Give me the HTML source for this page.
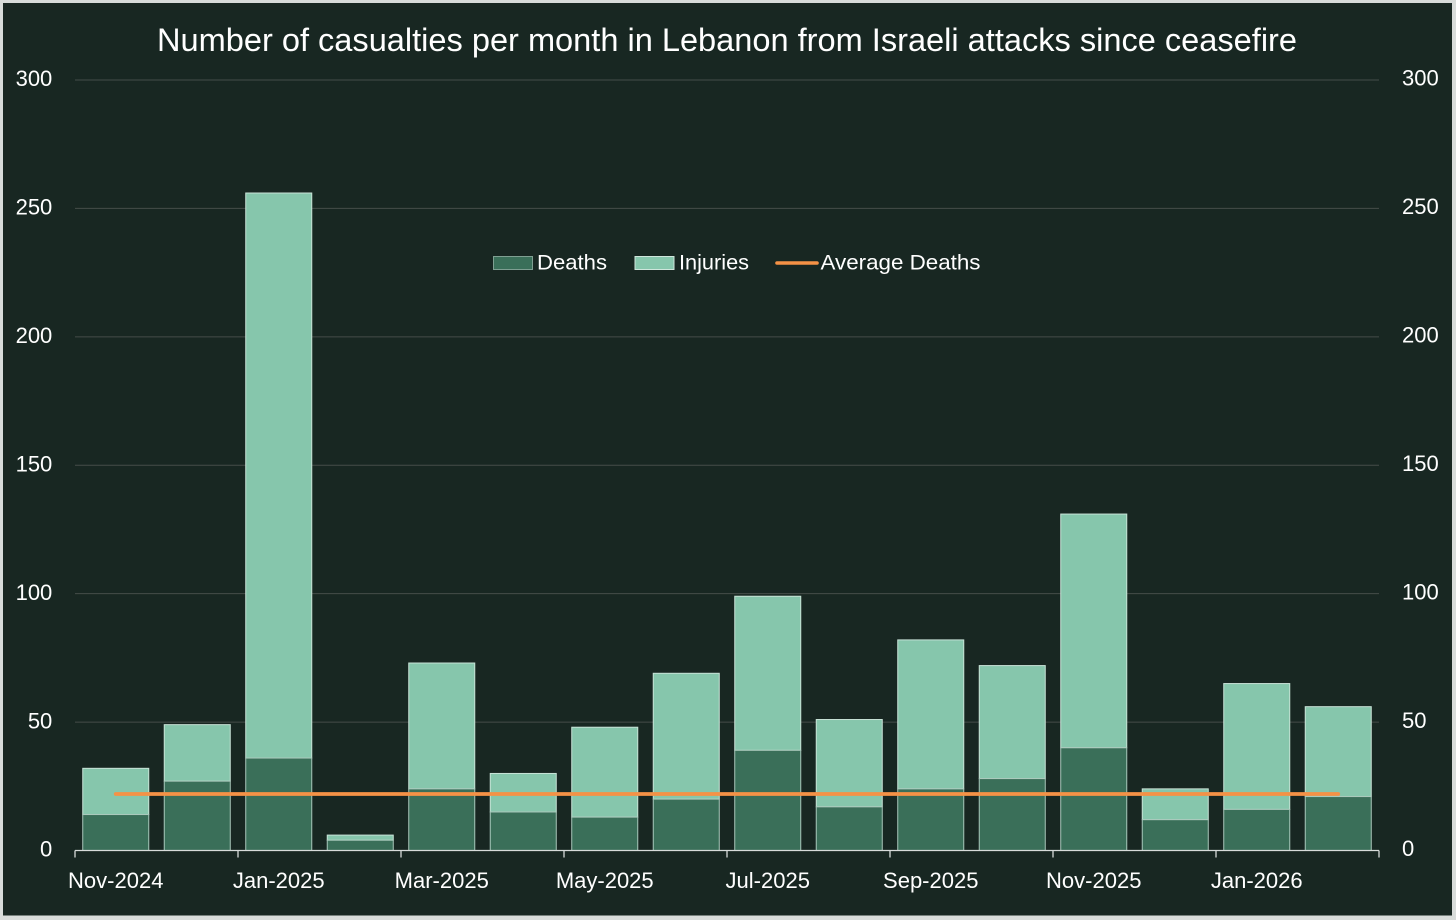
<!DOCTYPE html>
<html>
<head>
<meta charset="utf-8">
<title>Number of casualties per month in Lebanon</title>
<style>
html,body{margin:0;padding:0;background:#fff;}
#frame{position:absolute;left:0;top:0;width:1456px;height:920px;overflow:hidden;background:#d8dcda;}
svg{position:absolute;left:0;top:0;display:block;}
text{font-family:"Liberation Sans",sans-serif;fill:#fff;}
</style>
</head>
<body>
<div id="frame">
<svg id="chart" width="1456" height="920" viewBox="0 0 1456 920" xmlns="http://www.w3.org/2000/svg">
  <rect x="3" y="3" width="1449" height="912.5" fill="#182722"/>
  <text x="727" y="51" font-size="32" text-anchor="middle" textLength="1140" lengthAdjust="spacingAndGlyphs">Number of casualties per month in Lebanon from Israeli attacks since ceasefire</text>
  <g id="grid"></g>
  <g id="bars"></g>
  <g id="axes"></g>
  <g id="avg"></g>
  <g>
    <g>
      <rect x="493.5" y="256.5" width="39" height="13" fill="#3a6f59" stroke="#7f9f92" stroke-width="1"/>
      <text x="537" y="269.3" font-size="21.5" textLength="70" lengthAdjust="spacingAndGlyphs">Deaths</text>
    </g>
    <g>
      <rect x="635" y="256.5" width="39" height="13" fill="#86c6ac" stroke="#cfe6dc" stroke-width="1"/>
      <text x="679" y="269.3" font-size="21.5" textLength="70" lengthAdjust="spacingAndGlyphs">Injuries</text>
    </g>
    <g>
      <line x1="777" y1="263" x2="817" y2="263" stroke="#f59246" stroke-width="3.6" stroke-linecap="round"/>
      <text x="820.5" y="269.3" font-size="21.5" textLength="160" lengthAdjust="spacingAndGlyphs">Average Deaths</text>
    </g>
  </g>
</svg>
</div>
<script>
const categories = ["Nov-2024","Dec-2024","Jan-2025","Feb-2025","Mar-2025","Apr-2025","May-2025","Jun-2025","Jul-2025","Aug-2025","Sep-2025","Oct-2025","Nov-2025","Dec-2025","Jan-2026","Feb-2026"];
const deaths = [14,27,36,4,24,15,13,20,39,17,24,28,40,12,16,21];
const injuries = [18,22,220,2,49,15,35,49,60,34,58,44,91,12,49,35];
const averageDeaths = [22,22,22,22,22,22,22,22,22,22,22,22,22,22,22,22];
const yTicks = [0,50,100,150,200,250,300];

const NS = "http://www.w3.org/2000/svg";
const plot = {left:75, right:1379, top:80, bottom:850.5};
const yMax = 300;
const band = (plot.right - plot.left) / categories.length;
const barW = band * 0.81;
function xCenter(i){ return plot.left + band * (i + 0.5); }
function xEdge(i){ return plot.left + band * i; }
function yPos(v){ return plot.bottom - (v / yMax) * (plot.bottom - plot.top); }
function make(tag, attrs, parent){
  const el = document.createElementNS(NS, tag);
  for (const k in attrs) el.setAttribute(k, attrs[k]);
  parent.appendChild(el);
  return el;
}
const gridG = document.getElementById("grid");
const barsG = document.getElementById("bars");
const axesG = document.getElementById("axes");
const avgG = document.getElementById("avg");

yTicks.forEach(function(t){
  if (t !== 0) {
    const line = make("line", {x1:plot.left, x2:plot.right, y1:yPos(t), y2:yPos(t), stroke:"#454d49", "stroke-width":1}, gridG);
    
    
  }
  const left = make("text", {x:52.3, y:yPos(t) + 6.2, "font-size":22, "text-anchor":"end"}, axesG);
  left.textContent = t;
  
  
  const right = make("text", {x:1402, y:yPos(t) + 5.7, "font-size":22, "text-anchor":"start"}, axesG);
  right.textContent = t;
  
  
});

categories.forEach(function(c, i){
  const x = xCenter(i) - barW / 2;
  const total = deaths[i] + injuries[i];
  const inj = make("rect", {x:x, y:yPos(total), width:barW, height:yPos(deaths[i]) - yPos(total), fill:"#86c6ac", stroke:"#c9e3d8", "stroke-width":1}, barsG);
  
  
  const dea = make("rect", {x:x, y:yPos(deaths[i]), width:barW, height:plot.bottom - yPos(deaths[i]), fill:"#3a6f59", stroke:"#a9c8bb", "stroke-width":1}, barsG);
  
  
  if (i % 2 === 0) {
    const label = make("text", {x:xCenter(i), y:888, "font-size":22, "text-anchor":"middle"}, axesG);
    label.textContent = c;
    
    
    const tick = make("line", {x1:xEdge(i), x2:xEdge(i), y1:plot.bottom, y2:plot.bottom + 7, stroke:"#d8dcda", "stroke-width":1.3}, axesG);
    
    
  }
});
const endTick = make("line", {x1:plot.right, x2:plot.right, y1:plot.bottom, y2:plot.bottom + 7, stroke:"#d8dcda", "stroke-width":1.3}, axesG);


const axisLine = make("line", {x1:plot.left, x2:plot.right, y1:plot.bottom, y2:plot.bottom, stroke:"#d8dcda", "stroke-width":1.3}, axesG);



const avgPoints = averageDeaths.map(function(v, i){ return xCenter(i) + "," + yPos(v); }).join(" ");
const avgLine = make("polyline", {points:avgPoints, fill:"none", stroke:"#f59246", "stroke-width":3.8, "stroke-linecap":"round", "stroke-linejoin":"round"}, avgG);


</script>
</body>
</html>
